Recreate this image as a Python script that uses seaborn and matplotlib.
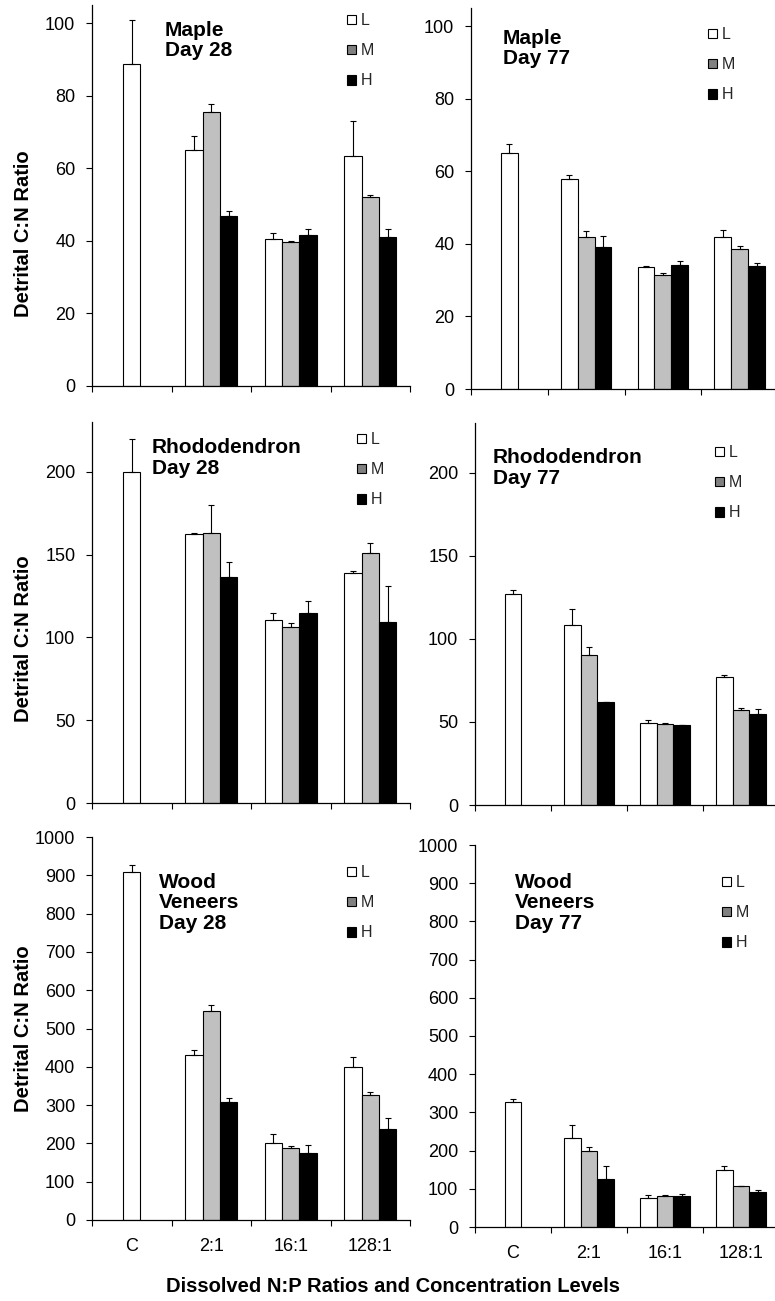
import matplotlib
matplotlib.use("Agg")
import matplotlib.pyplot as plt
from matplotlib.patches import Patch
import numpy as np
import pandas as pd
import seaborn as sns

# categories
ratios = ["C", "2:1", "16:1", "128:1"]
levels = ["L", "M", "H"]
colors = {"L": "white", "M": "#C0C0C0", "H": "black"}
legend_colors = {"L": "white", "M": "#808080", "H": "black"}

# control bar (C, L only) and its upper error
ctrl_mean = {
    "maple28": 88.8, "maple77": 65.1,
    "rhodo28": 200.0, "rhodo77": 126.8,
    "wood28": 909.0, "wood77": 326.0,
}
ctrl_err = {
    "maple28": 12.0, "maple77": 2.5,
    "rhodo28": 20.0, "rhodo77": 2.8,
    "wood28": 17.0, "wood77": 8.0,
}

# treatment bars: rows = 2:1, 16:1, 128:1 ; cols = L, M, H
maple28_mean = [[65.1, 75.5, 46.8], [40.4, 39.6, 41.5], [63.3, 52.1, 41.0]]
maple28_err = [[3.7, 2.2, 1.5], [1.8, 0.4, 1.8], [9.7, 0.5, 2.2]]
maple77_mean = [[57.8, 42.0, 39.2], [33.7, 31.3, 34.1], [42.0, 38.5, 33.8]]
maple77_err = [[1.2, 1.6, 2.9], [0.1, 0.7, 1.2], [1.8, 1.0, 0.8]]
rhodo28_mean = [[162.1, 162.9, 136.4], [110.2, 106.1, 114.4], [138.6, 151.1, 109.4]]
rhodo28_err = [[0.6, 16.8, 9.3], [4.8, 2.4, 7.7], [1.4, 5.6, 21.7]]
rhodo77_mean = [[108.5, 90.5, 62.3], [49.6, 48.8, 48.2], [77.2, 57.5, 54.7]]
rhodo77_err = [[9.4, 4.8, 0.0], [1.6, 0.8, 0.2], [0.8, 0.8, 3.0]]
wood28_mean = [[429.6, 545.2, 307.0], [201.7, 187.8, 174.8], [399.1, 327.0, 237.4]]
wood28_err = [[13.0, 16.5, 10.4], [23.5, 6.1, 20.0], [27.0, 7.8, 28.7]]
wood77_mean = [[234.2, 199.2, 125.0], [76.9, 80.4, 81.3], [148.5, 106.6, 91.8]]
wood77_err = [[34.0, 11.4, 34.0], [7.0, 3.5, 6.0], [11.4, 1.7, 6.1]]

panel_titles = {
    "maple28": "Maple\nDay 28", "maple77": "Maple\nDay 77",
    "rhodo28": "Rhododendron\nDay 28", "rhodo77": "Rhododendron\nDay 77",
    "wood28": "Wood\nVeneers\nDay 28", "wood77": "Wood\nVeneers\nDay 77",
}
treat = {
    "maple28": (maple28_mean, maple28_err), "maple77": (maple77_mean, maple77_err),
    "rhodo28": (rhodo28_mean, rhodo28_err), "rhodo77": (rhodo77_mean, rhodo77_err),
    "wood28": (wood28_mean, wood28_err), "wood77": (wood77_mean, wood77_err),
}
y_limits = {"maple": (105, 20), "rhodo": (230, 50), "wood": (1000, 100)}

sns.set_theme(style="ticks")
plt.rcParams["font.family"] = ["Liberation Sans", "DejaVu Sans"]

W, H = 775, 1301
fig = plt.figure(figsize=(W / 100, H / 100), dpi=100)


def fx(px):
    return px / W


def fy(py):
    return 1 - py / H


# pixel boxes: (left, right, top, bottom), title pos, legend anchor, ylabel y
layout = {
    "maple28": ((92, 410, 5, 386), (165, 21), (347, 13), 0.40),
    "maple77": ((471, 778, 8, 389), (503, 29), (708, 27), None),
    "rhodo28": ((92, 410, 422, 803), (152, 438), (357, 432), 0.43),
    "rhodo77": ((475, 779, 423, 805), (493, 448), (715, 445), None),
    "wood28": ((92, 410, 837, 1220), (159, 873), (347, 865), 0.50),
    "wood77": ((475, 779, 845, 1227), (515, 873), (722, 875), None),
}

bw = 0.22
for key, (box, tpos, lpos, ylab_y) in layout.items():
    l, r, t, b = box
    ax = fig.add_axes([fx(l), fy(b), fx(r - l), (b - t) / H])

    means, errs = treat[key]
    df = pd.DataFrame({
        "ratio": np.repeat(ratios[1:], 3),
        "level": levels * 3,
        "value": np.ravel(means),
        "err": np.ravel(errs),
    })
    cdf = pd.DataFrame({"ratio": ["C"], "value": [ctrl_mean[key]]})

    sns.barplot(data=cdf, x="ratio", y="value", order=ratios, color="white",
                saturation=1, edgecolor="black", linewidth=0.8, width=bw,
                errorbar=None, ax=ax)
    sns.barplot(data=df, x="ratio", y="value", hue="level", order=ratios,
                hue_order=levels, palette=colors, saturation=1,
                edgecolor="black", linewidth=0.8, width=3 * bw,
                errorbar=None, legend=False, ax=ax)

    # one-sided error bars
    xs = [ratios.index(rt) + (levels.index(lv) - 1) * bw
          for rt, lv in zip(df["ratio"], df["level"])]
    ax.errorbar(xs, df["value"], yerr=[np.zeros(len(df)), df["err"]],
                fmt="none", ecolor="black", elinewidth=0.8, capsize=2.5,
                capthick=0.8)
    ax.errorbar([0], [ctrl_mean[key]], yerr=[[0], [ctrl_err[key]]],
                fmt="none", ecolor="black", elinewidth=0.8, capsize=2.5,
                capthick=0.8)

    ymax, ystep = y_limits[key[:-2]]
    ax.set_ylim(0, ymax)
    ax.set_yticks(np.arange(0, ymax + 1, ystep))
    ax.set_xlim(-0.5, 3.5)
    ax.set_xticks(np.arange(-0.5, 4, 1))
    ax.set_xticklabels([])
    ax.set_xticks(range(4), minor=True)
    if key.startswith("wood"):
        ax.set_xticklabels(ratios, minor=True)
    else:
        ax.set_xticklabels([], minor=True)
    ax.tick_params(axis="x", which="major", direction="out", length=4,
                   width=0.8, color="black")
    ax.tick_params(axis="x", which="minor", length=0, pad=13, labelsize=13,
                   labelcolor="black")
    ax.tick_params(axis="y", direction="out", length=4, width=0.8, pad=8,
                   labelsize=13, color="black", labelcolor="black")
    sns.despine(ax=ax)
    for s in ("left", "bottom"):
        ax.spines[s].set_color("black")
        ax.spines[s].set_linewidth(0.9)

    ax.set_xlabel("")
    if ylab_y is not None:
        ax.set_ylabel("Detrital C:N Ratio", fontsize=14.5, fontweight="bold",
                      color="black")
        ax.yaxis.set_label_coords(-0.186, ylab_y)
    else:
        ax.set_ylabel("")

    fig.text(fx(tpos[0]), fy(tpos[1]), panel_titles[key], fontsize=15,
             fontweight="bold", ha="left", va="top", linespacing=1.1,
             color="black")

    handles = [Patch(facecolor=legend_colors[lv], edgecolor="black",
                     linewidth=0.8, label=lv) for lv in levels]
    ax.legend(handles=handles, loc="upper left",
              bbox_to_anchor=(fx(lpos[0]), fy(lpos[1])),
              bbox_transform=fig.transFigure, frameon=False, fontsize=11.5,
              handlelength=0.55, handleheight=0.55, handletextpad=0.3,
              labelspacing=0.95, borderpad=0, borderaxespad=0)

fig.text(fx(393), fy(1287), "Dissolved N:P Ratios and Concentration Levels",
         fontsize=14.5, fontweight="bold", ha="center", va="center",
         color="black")

fig.savefig("out.png", dpi=100)
